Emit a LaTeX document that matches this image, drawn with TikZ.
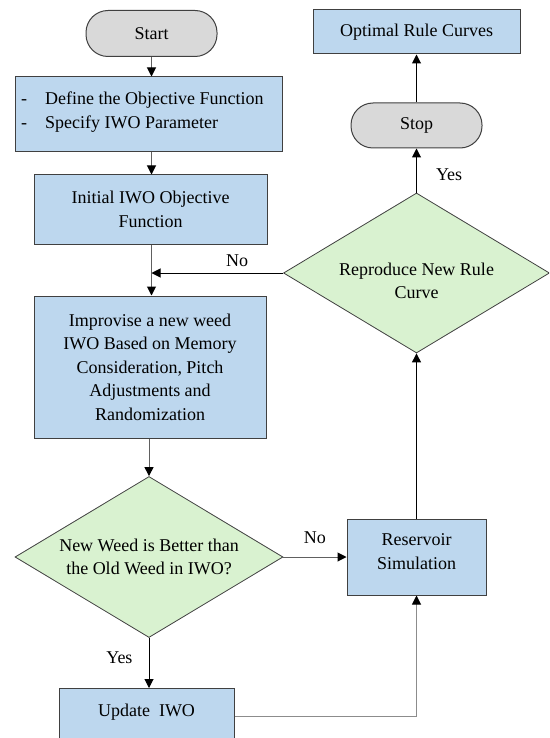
\documentclass[tikz,border=0pt]{standalone}
\usepackage{fontspec}
\setmainfont{Liberation Serif}
\usetikzlibrary{shapes.geometric,arrows.meta,calc}
\definecolor{boxblue}{HTML}{BDD7EE}
\definecolor{dgreen}{HTML}{D9F2D0}
\definecolor{termgray}{HTML}{D9D9D9}
\definecolor{edgedark}{HTML}{404040}
\definecolor{linegray}{HTML}{606060}
\definecolor{linelight}{HTML}{8C8C8C}
\begin{document}
\begin{tikzpicture}[x=1pt,y=-1pt,
  font=\fontsize{18}{23.5}\selectfont,
  procbox/.style={draw=edgedark, fill=boxblue, line width=1pt, inner sep=0pt, align=center},
  termbox/.style={draw=edgedark, fill=termgray, line width=1pt, rounded corners=22pt, inner sep=0pt},
  decision/.style={diamond, draw=edgedark, fill=dgreen, line width=0.8pt, aspect=1.66, inner sep=0pt, align=center},
  flow/.style={-{Triangle[length=9pt,width=9pt,black]}, line width=1pt},
  lbl/.style={inner sep=0pt, text=black}
]
\useasboundingbox (0,0) rectangle (549,738);
\clip (0,0) rectangle (549,738);

% left column
\node[termbox, minimum width=131pt, minimum height=46pt] (start) at (151.5,33.5) {Start};
\node[procbox, minimum width=267pt, minimum height=75pt] (def) at (148.5,114.5) {};
\node[anchor=west, align=left, inner sep=0pt] (deftxt) at (21,112) {-\quad Define the Objective Function\\-\quad Specify IWO Parameter};
\node[procbox, minimum width=233pt, minimum height=69pt] (ini) at (150.5,209.5) {Initial IWO Objective\\Function};
\node[procbox, minimum width=232pt, minimum height=142pt] (imp) at (150,367) {Improvise a new weed\\IWO Based on Memory\\Consideration, Pitch\\Adjustments and\\Randomization};
\node[decision, minimum width=268pt, minimum height=161pt] (d1) at (149,557) {New Weed is Better than\\the Old Weed in IWO?};
\node[procbox, anchor=north, minimum width=175pt, text height=28pt, text depth=50pt] (upd) at (146.5,688) {Update\ \ IWO};

% right column
\node[procbox, minimum width=207pt, minimum height=44pt] (opt) at (416.5,32) {Optimal Rule Curves};
\node[termbox, minimum width=131pt, minimum height=45pt] (stop) at (416.5,125.5) {Stop};
\node[decision, minimum width=266pt, minimum height=160pt] (rep) at (416.5,273) {};
\node[align=center, inner sep=0pt] (reptxt) at (416.5,281) {Reproduce New Rule\\Curve};
\node[procbox, minimum width=139pt, minimum height=76pt] (res) at (416.5,557) {};
\node[align=center, inner sep=0pt] (restxt) at (416.5,551.5) {Reservoir\\Simulation};

% connectors
\draw[flow, linegray] (start.south) -- (start.south |- def.north);
\draw[flow, linegray] (start.south |- def.south) -- (start.south |- ini.north);
\draw[flow, linegray] (start.south |- ini.south) -- (start.south |- imp.north);
\draw[flow] (rep.west) -- (rep.west -| start.south) node[lbl, pos=0.35, above=6pt] {No};
\draw[flow, linegray] (d1.north |- imp.south) -- (d1.north);
\draw[flow, linegray] (d1.east) -- (res.west) node[lbl, midway, above=13pt] {No};
\draw[flow, black] (d1.south) -- (d1.south |- upd.north) node[lbl, pos=0.39, left=16pt] {Yes};
\draw[flow, linelight] (upd.base east) -| (res.south);
\draw[flow] (res.north) -- (rep.south);
\draw[flow] (rep.north) -- (stop.south) node[lbl, pos=0.4, right=19pt] {Yes};
\draw[flow] (stop.north) -- (opt.south);
\end{tikzpicture}
\end{document}
